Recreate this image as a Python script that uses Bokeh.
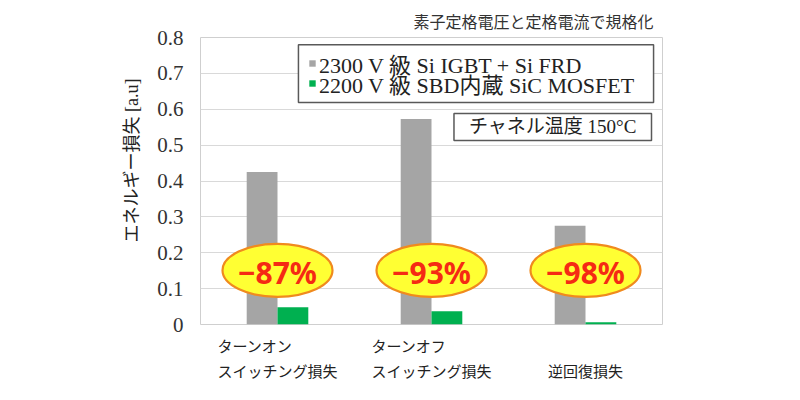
from bokeh.plotting import figure
from bokeh.models import (Label, Legend, LegendItem, ColumnDataSource, FactorRange, Title,
                          BoxAnnotation)
from bokeh.core.properties import value
from bokeh.transform import dodge
from bokeh.embed import file_html
from bokeh.resources import INLINE

# ---- data ----
categories = ["ターンオン\u3000\u3000\u3000\nスイッチング損失",
              "ターンオフ\u3000\u3000\u3000\nスイッチング損失",
              "\n逆回復損失"]
si_igbt = [0.425, 0.573, 0.275]
sic_mosfet = [0.048, 0.037, 0.006]
reduction = ["−87%", "−93%", "−98%"]
series_names = ["2300 V 級 Si IGBT + Si FRD", "2200 V 級 SBD内蔵 SiC MOSFET"]
y_ticks = [0, 0.1, 0.2, 0.3, 0.4, 0.5, 0.6, 0.7, 0.8]
y_tick_labels = ["0", "0.1", "0.2", "0.3", "0.4", "0.5", "0.6", "0.7", "0.8"]
title_text = "素子定格電圧と定格電流で規格化"
y_label_text = "エネルギー損失 [a.u]"
condition_text = "チャネル温度 150°C"

SERIF_JP = "'Liberation Serif', 'Noto Sans CJK JP'"
SANS_JP = "'Noto Sans CJK JP'"

src = ColumnDataSource(dict(cat=categories, si=si_igbt, sic=sic_mosfet, red=reduction))

p = figure(x_range=FactorRange(*categories), y_range=(0, 0.8),
           width=800, height=400, output_backend="svg", toolbar_location=None,
           min_border_left=200, min_border_right=138, min_border_top=37, min_border_bottom=76)
p.background_fill_color = "white"
p.border_fill_color = "white"
p.outline_line_color = "#cfcfcf"

# title (top right)
p.title.text = title_text
p.title.align = "right"
p.title.offset = 9
p.title.text_font = SANS_JP
p.title.text_font_size = "16px"
p.title.text_font_style = "normal"
p.title.text_color = "#333333"

# x axis: category labels
xa = p.xaxis[0]
xa.axis_line_color = None
xa.major_tick_line_color = None
xa.minor_tick_line_color = None
xa.major_tick_in = 0
xa.major_tick_out = 0
xa.major_label_standoff = 10
xa.major_label_text_font = SANS_JP
xa.major_label_text_font_size = "15px"
xa.major_label_text_color = "#222222"
xa.major_label_text_line_height = 1.2

p.xgrid.grid_line_color = None
p.ygrid.grid_line_color = "#d9d9d9"
p.ygrid.ticker = y_ticks

ya = p.yaxis[0]
ya.ticker = y_ticks
ya.major_label_overrides = {t: l for t, l in zip(y_ticks, y_tick_labels)}
ya.axis_line_color = None
ya.major_tick_line_color = None
ya.minor_tick_line_color = None
ya.major_tick_in = 0
ya.major_tick_out = 0
ya.major_label_standoff = 17
ya.major_label_text_font = "Liberation Serif"
ya.major_label_text_font_size = "21px"
ya.major_label_text_color = "#333333"

# y-axis title, placed a little above centre like the reference
p.add_layout(Title(text=y_label_text, align="left", offset=82, standoff=26, text_font=SERIF_JP,
                   text_font_size="18px", text_font_style="normal", text_color="#222222"), "left")

r1 = p.vbar(x=dodge("cat", -0.1, range=p.x_range), top="si", width=0.2, source=src,
            fill_color="#a5a5a5", line_color=None)
r2 = p.vbar(x=dodge("cat", 0.1, range=p.x_range), top="sic", width=0.2, source=src,
            fill_color="#00b050", line_color=None)

p.ellipse(x="cat", y=0.151, width=110, height=53, width_units="screen", height_units="screen",
          source=src, fill_color="#ffff33", line_color="#f08a1e", line_width=2.2)
p.text(x="cat", y=0.151, text="red", source=src, text_align="center", text_baseline="middle",
       text_font=value("Noto Sans"), text_font_style="bold", text_font_size="30px",
       text_color="#f52a14", y_offset=2)

# legend frame (white box with dark border)
p.add_layout(BoxAnnotation(left=0.636, right=2.942, top=0.780, bottom=0.6185,
                           fill_color="white", fill_alpha=1.0,
                           line_color="#595959", line_width=1.5, line_alpha=1.0))

legend_common = dict(border_line_color=None, background_fill_alpha=0, padding=0, spacing=0,
                     margin=0, label_text_font=SERIF_JP, label_text_font_size="22px",
                     label_text_color="#222222", glyph_width=8, glyph_height=8,
                     label_standoff=3)
p.add_layout(Legend(items=[LegendItem(label=series_names[0], renderers=[r1])],
                    location=(108, 245), **legend_common))
p.add_layout(Legend(items=[LegendItem(label=series_names[1], renderers=[r2])],
                    location=(108, 225), **legend_common))

n_cat = len(categories)
p.add_layout(Label(x=n_cat, y=0.5507, x_offset=-11, text=condition_text, text_align="right",
                   text_baseline="middle", text_font=SERIF_JP, text_font_size="19px",
                   text_color="#222222", border_line_color="#595959", border_line_width=1.5,
                   background_fill_color="white", padding=dict(x=15, y=3)))

open("out.html", "w").write(file_html(p, INLINE))
